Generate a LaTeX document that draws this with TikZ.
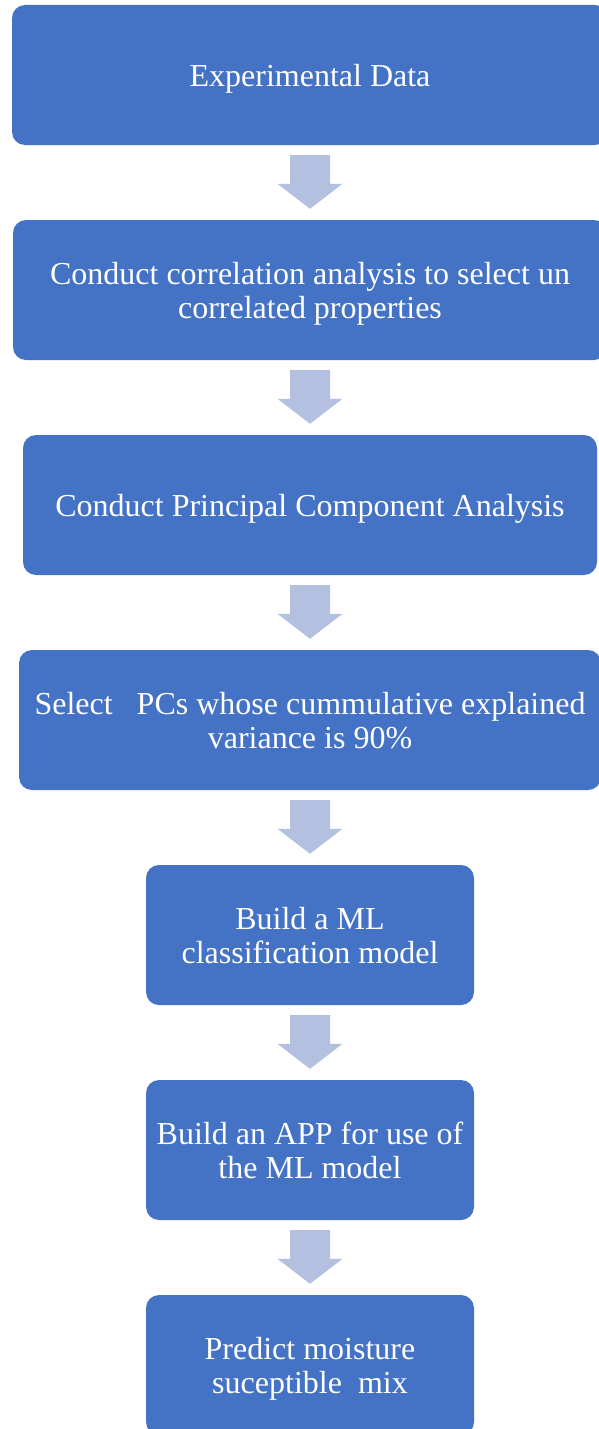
\documentclass[tikz,border=0pt]{standalone}
\usepackage{fontspec}
\setmainfont{Liberation Serif}
\usetikzlibrary{calc}
\definecolor{boxblue}{HTML}{4472C4}
\definecolor{arrowblue}{HTML}{B4C0E0}
\tikzset{
  stepbox/.style={fill=boxblue, rounded corners=13pt, minimum height=140pt,
    inner sep=0pt, align=center, text=white,
    font=\fontsize{32}{34}\selectfont, text height=29pt, text depth=7pt},
  twolines/.style={text height=63pt},
  downarrow/.style={fill=arrowblue}
}
\begin{document}
\begin{tikzpicture}[x=1pt, y=-1pt]
    \useasboundingbox (0,0) rectangle (599,1429);
    \clip (0,0) rectangle (599,1429);

    \node[stepbox, minimum width=596pt] (data) at (310, 75) {Experimental Data};
    \node[stepbox, twolines, minimum width=594pt] (corr) at (310, 290)
      {Conduct correlation analysis to select un\\correlated properties};
    \node[stepbox, minimum width=574pt] (pca) at (310, 505)
      {Conduct Principal Component Analysis};
    \node[stepbox, twolines, minimum width=582pt] (pcs) at (310, 720)
      {Select\ \ \ PCs whose cummulative explained\\variance is 90\%};
    \node[stepbox, twolines, minimum width=328pt] (model) at (310, 935)
      {Build a ML\\classification model};
    \node[stepbox, twolines, minimum width=328pt] (app) at (310, 1150)
      {Build an APP for use of\\the ML model};
    \node[stepbox, twolines, minimum width=328pt] (predict) at (310, 1365)
      {Predict moisture\\suceptible\ \ mix};

    % block arrows between the steps
    \foreach \a/\b in {data/corr, corr/pca, pca/pcs, pcs/model, model/app, app/predict}
      {
        \fill[downarrow] ($(\a.south)+(-20,10)$) -- ($(\a.south)+(20,10)$)
          -- ($(\b.north)+(20,-36)$) -- ($(\b.north)+(32.5,-36)$)
          -- ($(\b.north)+(0,-11)$) -- ($(\b.north)+(-32.5,-36)$)
          -- ($(\b.north)+(-20,-36)$) -- cycle;
      }
\end{tikzpicture}
\end{document}
